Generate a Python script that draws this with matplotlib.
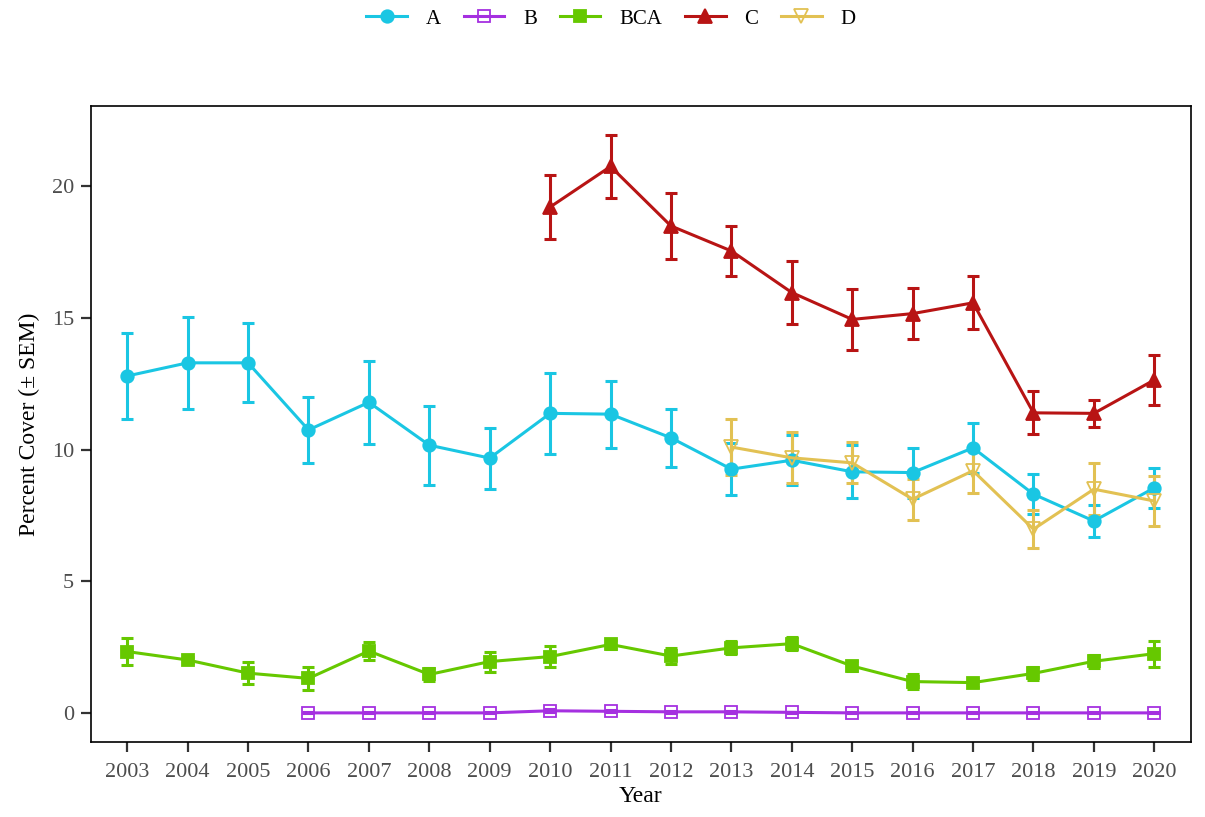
import matplotlib.pyplot as plt
import numpy as np

plt.rcParams['font.family'] = ['Liberation Serif', 'DejaVu Serif']

years = list(range(2003, 2021))

# A (2003-2020)
a_mean = [12.8, 13.3, 13.3, 10.75, 11.8, 10.17, 9.68, 11.38, 11.35, 10.45, 9.26, 9.6, 9.16, 9.13, 10.07, 8.31, 7.29, 8.55]
a_sem = [1.65, 1.75, 1.5, 1.27, 1.58, 1.5, 1.16, 1.55, 1.27, 1.1, 1.0, 0.96, 1.0, 0.95, 0.95, 0.76, 0.6, 0.76]

# B (2006-2020)
b_years = list(range(2006, 2021))
b_mean = [0.0, 0.0, 0.0, 0.0, 0.08, 0.06, 0.04, 0.04, 0.02, 0.0, 0.0, 0.0, 0.0, 0.0, 0.0]
b_sem = [0.02, 0.02, 0.02, 0.02, 0.05, 0.04, 0.03, 0.03, 0.02, 0.02, 0.02, 0.02, 0.02, 0.02, 0.02]

# BCA (2003-2020)
bca_mean = [2.33, 2.01, 1.51, 1.31, 2.35, 1.46, 1.95, 2.14, 2.6, 2.16, 2.47, 2.63, 1.78, 1.19, 1.15, 1.5, 1.96, 2.25]
bca_sem = [0.5, 0.1, 0.42, 0.44, 0.35, 0.25, 0.38, 0.4, 0.18, 0.3, 0.25, 0.25, 0.18, 0.3, 0.15, 0.25, 0.25, 0.5]

# C (2010-2020)
c_years = list(range(2010, 2021))
c_mean = [19.22, 20.76, 18.5, 17.55, 15.97, 14.95, 15.17, 15.58, 11.4, 11.38, 12.65]
c_sem = [1.2, 1.2, 1.27, 0.95, 1.2, 1.15, 0.98, 1.0, 0.82, 0.5, 0.95]

# D (2013-2020)
d_years = list(range(2013, 2021))
d_mean = [10.1, 9.69, 9.5, 8.12, 9.2, 6.98, 8.5, 8.05]
d_sem = [1.05, 0.97, 0.78, 0.78, 0.85, 0.72, 1.0, 0.95]

fig = plt.figure(figsize=(12.05, 8.17), dpi=100)
ax = fig.add_axes([0.0755, 0.092, 0.9125, 0.778])

series = [
    ('A', years, a_mean, a_sem, '#1AC6E3', 'o', True),
    ('B', b_years, b_mean, b_sem, '#A530E0', 's', False),
    ('BCA', years, bca_mean, bca_sem, '#66C800', 's', True),
    ('C', c_years, c_mean, c_sem, '#B81414', '^', True),
    ('D', d_years, d_mean, d_sem, '#E2C153', 'v', False),
]

handles = []
for name, xs, ys, es, col, mk, filled in series:
    ax.errorbar(xs, ys, yerr=es, fmt='none', ecolor=col, elinewidth=2.2,
                capsize=4, capthick=2.2, zorder=2)
    ln, = ax.plot(xs, ys, color=col, lw=2.2, marker=mk, ms=10 if mk in '^v' else 9,
                  markerfacecolor=col if filled else 'none',
                  markeredgecolor=col, markeredgewidth=1.3, zorder=3, label=name)
    handles.append(ln)

ax.set_xlim(2002.4, 2020.6)
ax.set_ylim(-1.1, 23.05)
ax.set_xticks(years)
ax.set_yticks([0, 5, 10, 15, 20])
ax.tick_params(labelsize=16, labelcolor='#4D4D4D', length=7, width=1.6, color='#333333')
ax.tick_params(axis='x', pad=8)
ax.tick_params(axis='y', pad=5)
for sp in ax.spines.values():
    sp.set_linewidth(1.2)
    sp.set_color('black')

ax.set_xlabel('Year', fontsize=17, labelpad=3)
ax.set_ylabel('Percent Cover (± SEM)', fontsize=17, labelpad=9)

fig.legend(handles=handles, loc='upper center', bbox_to_anchor=(0.507, 1.012), ncol=5,
           frameon=False, fontsize=15, handlelength=1.95, columnspacing=1.1,
           handletextpad=0.9)

fig.savefig('out.png', dpi=100)
